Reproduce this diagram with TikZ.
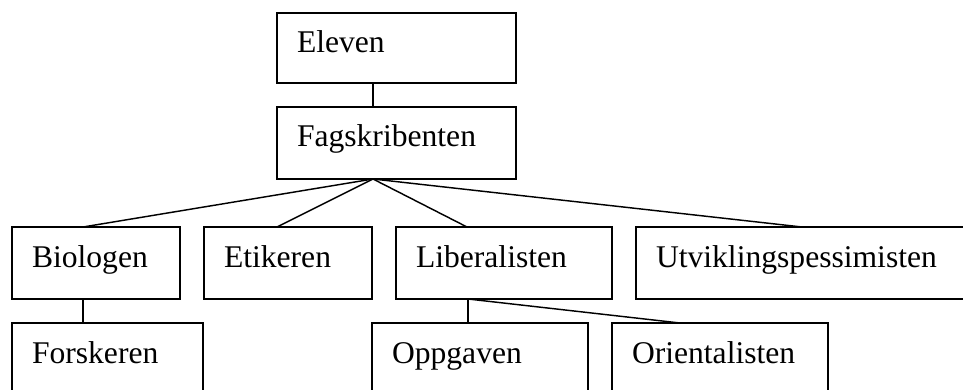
\documentclass[tikz,border=0pt]{standalone}
\usepackage{fontspec}
\setmainfont{Liberation Serif}
\usetikzlibrary{calc}
\tikzset{
  rolebox/.style args={#1x#2}{draw, line width=1.9pt, rectangle, anchor=north west,
    inner xsep=20pt, inner ysep=0pt, outer sep=0pt,
    text width=#1pt-40pt, align=left,
    text height=40pt, text depth=#2pt-40pt,
    font=\fontsize{31.6}{36}\selectfont},
  link/.style={line width=1.45pt}
}
\begin{document}
\begin{tikzpicture}[x=1pt,y=-1pt]
  \useasboundingbox (0,0) rectangle (963,390);
  \clip (0,0) rectangle (963,390);
  % top chain
  \node[rolebox=239x70] (elev) at (277,13) {Eleven};
  \node[rolebox=239x72] (fag) at (277,107) {Fagskribenten};
  % second row
  \node[rolebox=168x72] (bio) at (12,227) {Biologen};
  \node[rolebox=168x72] (eti) at (204,227) {Etikeren};
  \node[rolebox=216x72] (lib) at (396,227) {Liberalisten};
  \node[rolebox=340x72] (utv) at (636,227) {Utviklingspessimisten};
  % third row
  \node[rolebox=191x72] (fors) at (12,323) {Forskeren};
  \node[rolebox=216x72] (opp) at (372,323) {Oppgaven};
  \node[rolebox=216x72] (ori) at (612,323) {Orientalisten};
  % junction points
  \coordinate (hub) at ($(fag.south west)+(96,0)$);
  \coordinate (libfoot) at ($(lib.south west)+(72,0)$);
  % connectors
  \draw[link] ($(elev.south west)+(96,0)$) -- ($(fag.north west)+(96,0)$);
  \draw[link] (hub) -- ($(bio.north west)+(71,0)$);
  \draw[link] (hub) -- ($(eti.north west)+(73,0)$);
  \draw[link] (hub) -- ($(lib.north west)+(71,0)$);
  \draw[link] (hub) -- ($(utv.north west)+(166,0)$);
  \draw[link] ($(bio.south west)+(71,0)$) -- ($(fors.north west)+(71,0)$);
  \draw[link] (libfoot) -- ($(opp.north west)+(96,0)$);
  \draw[link] (libfoot) -- ($(ori.north west)+(68,0)$);
\end{tikzpicture}
\end{document}
